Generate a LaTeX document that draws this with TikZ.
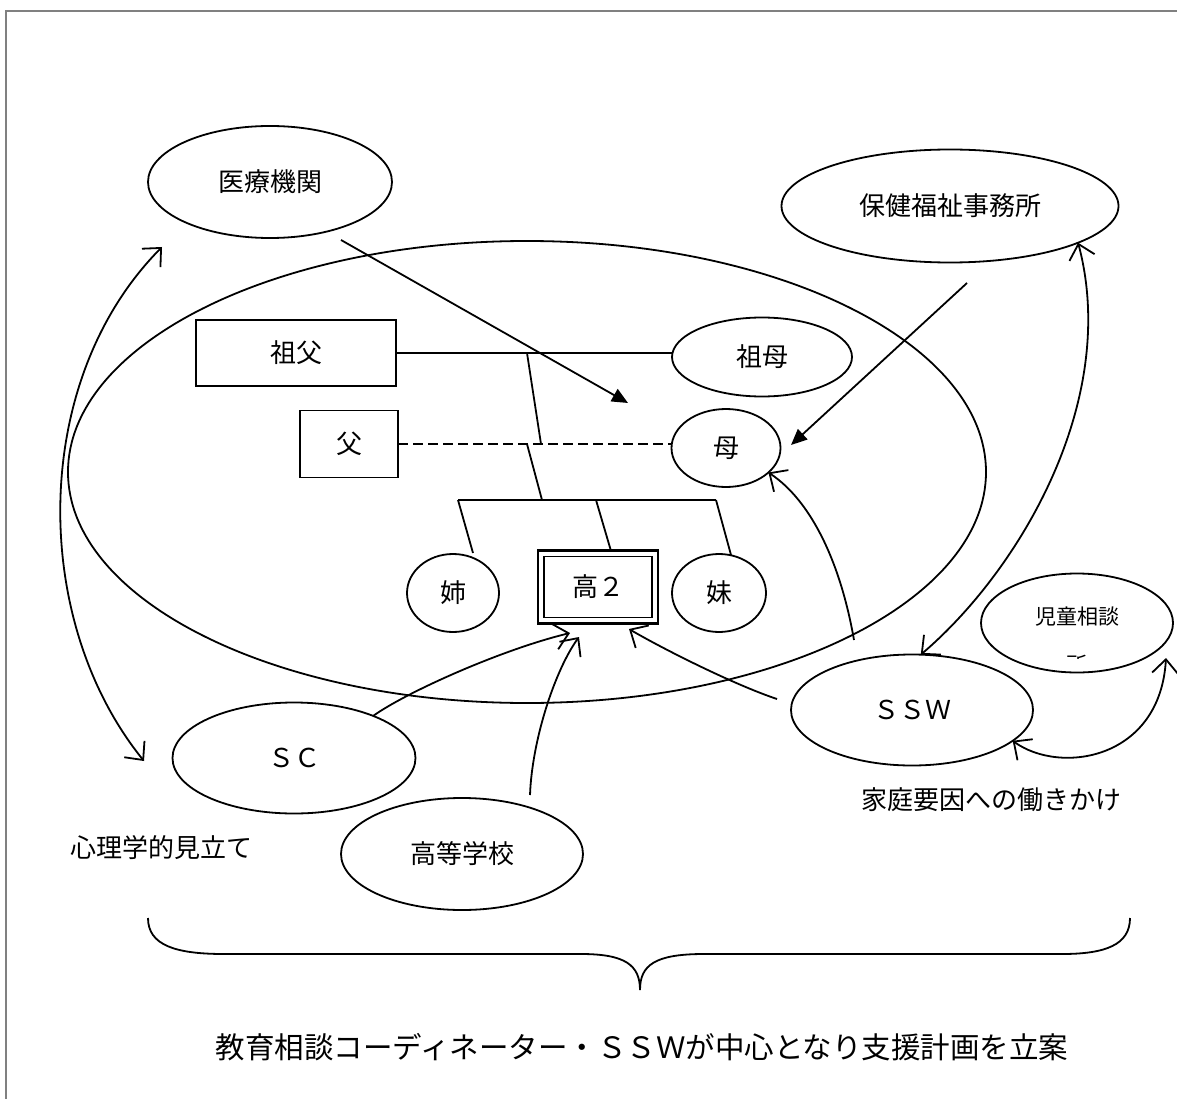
\documentclass[tikz,border=0pt]{standalone}
\usepackage{fontspec}
\setmainfont{Noto Sans CJK JP}
\usetikzlibrary{shapes.geometric,arrows.meta,calc}
\begin{document}
\begin{tikzpicture}[x=1pt,y=-1pt,
  every node/.style={font=\fontsize{26}{30}\selectfont, inner sep=0pt, outer sep=0pt},
  ln/.style={line width=1.8pt},
  ell/.style={draw, ellipse, line width=1.8pt},
  box/.style={draw, rectangle, line width=1.8pt},
  oa/.style={line width=1.8pt, -{Straight Barb[length=14pt,width=26pt]}},
  oaa/.style={line width=1.8pt, {Straight Barb[length=14pt,width=26pt]}-{Straight Barb[length=14pt,width=26pt]}},
  fa/.style={line width=1.8pt, -{Triangle[length=16pt,width=14pt]}},
  smallfont/.style={font=\fontsize{21}{25}\selectfont}
]
\useasboundingbox (0,0) rectangle (1177,1099);
\fill[white] (0,0) rectangle (1177,1099);
\draw[line width=2pt, black!50] (6,1099) -- (6,11) -- (1177,11);

% nodes
\node[ell, minimum width=918pt, minimum height=462pt] (big) at (527,472) {};
\node[ell, minimum width=244pt, minimum height=112pt] (iryo) at (270,182) {医療機関};
\node[ell, minimum width=337pt, minimum height=113pt] (hoken) at (950,206) {保健福祉事務所};
\node[box, minimum width=200pt, minimum height=66pt] (sofu) at (296,353) {祖父};
\node[ell, minimum width=180pt, minimum height=79pt] (sobo) at (762,357) {祖母};
\node[box, minimum width=98pt, minimum height=67pt] (chichi) at (349,444) {父};
\node[ell, minimum width=109pt, minimum height=78pt] (haha) at (726,448) {母};
\node[ell, minimum width=92pt, minimum height=78pt] (ane) at (453,593) {姉};
\node[draw, rectangle, line width=2.6pt, minimum width=120pt, minimum height=73pt] (ko2) at (598,587) {高２};
\draw[line width=1.4pt] ([shift={(6pt,-6pt)}]ko2.north west) rectangle ([shift={(-6pt,6pt)}]ko2.south east);
\node[ell, minimum width=94pt, minimum height=78pt] (imoto) at (719,593) {妹};
\node[ell, minimum width=243pt, minimum height=111pt] (sc) at (294,758) {ＳＣ};
\node[ell, minimum width=242pt, minimum height=112pt] (gk) at (462,854) {高等学校};
\node[ell, minimum width=242pt, minimum height=111pt] (ssw) at (912,710) {ＳＳＷ};
\node[ell, minimum width=192pt, minimum height=99pt] (jido) at (1077,623) {};
\node[smallfont] (jidot) at (1077,617) {児童相談};
\begin{scope}
  \clip (1040,650) rectangle (1115,658.5);
  \node[smallfont] (jidot2) at (1077,665) {所};
\end{scope}

\node (shinri) at (161,848) {心理学的見立て};
\node (katei) at (991,800) {家庭要因への働きかけ};
\node[font=\fontsize{29.5}{34}\selectfont] (keikaku) at (642,1047) {教育相談コーディネーター・ＳＳＷが中心となり支援計画を立案};

% family lines
\draw[ln] (sofu.east) -- (sofu.east -| sobo.west);
\draw[ln, dash pattern=on 10pt off 5pt] (chichi.east) -- (chichi.east -| haha.west);
\coordinate (g1) at (527,353); \coordinate (g2) at (541,444);
\coordinate (p1) at (527,444); \coordinate (p2) at (542,500);
\coordinate (sibL) at (458,500); \coordinate (sibM) at (596,500); \coordinate (sibR) at (716,500);
\coordinate (aneT) at (473,553); \coordinate (koT) at (611,551); \coordinate (imoT) at (731,555);
\draw[ln] (g1) -- (g2);
\draw[ln] (p1) -- (p2);
\draw[ln] (sibL) -- (sibR);
\draw[ln] (sibL) -- (aneT);
\draw[ln] (sibM) -- (koT);
\draw[ln] (sibR) -- (imoT);

% arrows
\coordinate (a1s) at (341,240); \coordinate (a1e) at (628,403);
\draw[fa] (a1s) -- (a1e);
\coordinate (a2s) at (967,283); \coordinate (a2e) at (791,445);
\draw[fa] (a2s) -- (a2e);
\coordinate (a3s) at (854,640);
\draw[oa] (a3s) .. controls (840,560) and (810,500) .. (haha.-30);
\coordinate (a4s) at (777,699); \coordinate (a4e) at (629,629);
\draw[oa] (a4s) .. controls (735,685) and (665,650) .. (a4e);
\coordinate (a5e) at (570,633);
\draw[oa] (sc.28) .. controls (405,693) and (500,650) .. (a5e);
\coordinate (a6s) at (530,795); \coordinate (a6e) at (579,637);
\draw[oa] (a6s) .. controls (532,740) and (555,670) .. (a6e);
\coordinate (a7s) at (144,761); \coordinate (a7e) at (162,247);
\draw[oaa] (a7s) .. controls (30,620) and (30,380) .. (a7e);
\draw[oaa] (ssw.81) .. controls (1020,570) and (1120,400) .. (hoken.-16);
\coordinate (a9e) at (1166,658);
\draw[oaa] (ssw.-17) .. controls (1060,775) and (1160,760) .. (a9e);

% brace
\draw[ln] (148,918) .. controls (148,945) and (175,954) .. (224,954) -- (581,954)
  .. controls (625,954) and (640,965) .. (640,990)
  .. controls (640,965) and (655,954) .. (704,954) -- (1062,954)
  .. controls (1105,954) and (1130,945) .. (1130,918);
\end{tikzpicture}
\end{document}
